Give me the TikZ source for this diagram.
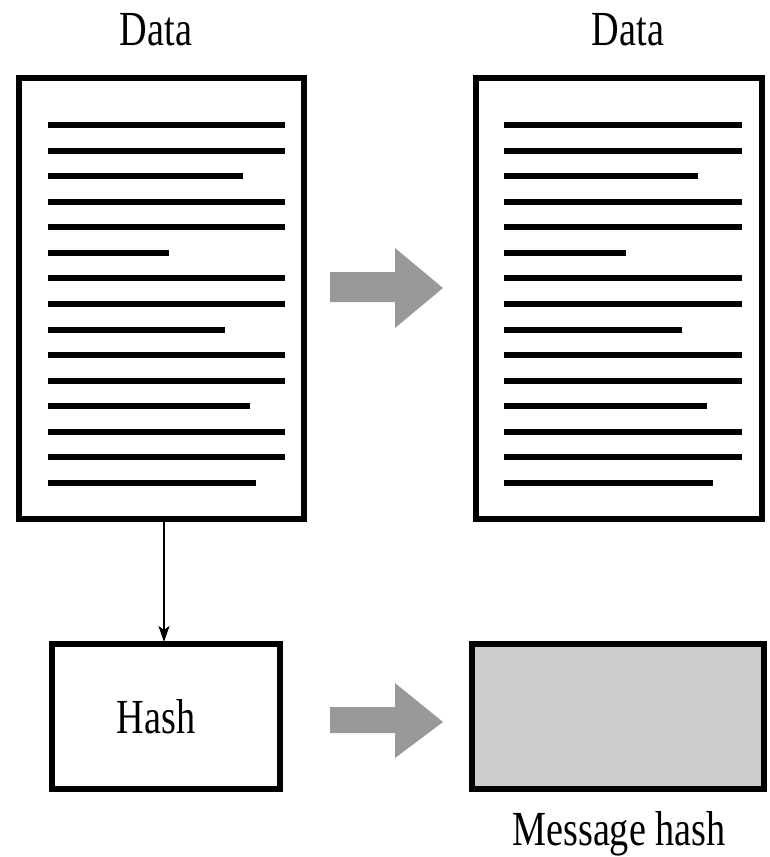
\documentclass[tikz,border=0pt]{standalone}
\usepackage{fontspec}
\setmainfont{Liberation Serif}[FakeStretch=0.78]
\usetikzlibrary{arrows.meta,calc}
\definecolor{arrowgray}{RGB}{153,153,153}
\definecolor{hashfill}{RGB}{204,204,204}
\tikzset{
  docbox/.style={draw=black, line width=6pt, fill=white, inner sep=0pt, outer sep=0pt},
  textline/.style={line width=6pt},
  bigarrow/.style={fill=arrowgray, draw=none},
  lbl/.style={font=\fontsize{49}{55}\selectfont, anchor=base, inner sep=0pt},
  thinarrow/.style={line width=1.4pt, -{Stealth[length=16pt,width=11pt,inset=4pt]}}
}
\begin{document}
\begin{tikzpicture}[x=1pt,y=-1pt]
\useasboundingbox (0,0) rectangle (769,857);
% document boxes
\node[docbox, minimum width=285pt, minimum height=441pt] (docL) at (161.5,298.5) {};
\node[docbox, minimum width=286pt, minimum height=441pt] (docR) at (619,298.5) {};
% lines
\foreach \i/\e in {0/285,1/285,2/243,3/285,4/285,5/169,6/285,7/285,8/225,9/285,10/285,11/250,12/285,13/285,14/256}{
  \draw[textline] (48,{125+25.57*\i}) -- (\e,{125+25.57*\i});
}
\foreach \i/\e in {0/742,1/742,2/698,3/742,4/742,5/626,6/742,7/742,8/682,9/742,10/742,11/707,12/742,13/742,14/713}{
  \draw[textline] (504,{125+25.57*\i}) -- (\e,{125+25.57*\i});
}
% labels
\node[lbl] (dataL) at (156,45) {Data};
\node[lbl] (dataR) at (628,45) {Data};
% hash boxes
\node[docbox, minimum width=228pt, minimum height=145pt] (hashbox) at (166,716.5) {};
\node[docbox, fill=hashfill, minimum width=292pt, minimum height=145pt] (msgbox) at (618,716.5) {};
\node[lbl] (hash) at (156,733) {Hash};
\node[lbl] (msg) at (619,845) {Message hash};
% thin arrow
\draw[thinarrow] ($(docL.south)+(2.5,3)$) -- ($(hashbox.north)+(-2,-2)$);
% gray block arrows
\fill[bigarrow] (330,272) -- (395,272) -- (395,248) -- (443,288) -- (395,328) -- (395,302) -- (330,302) -- cycle;
\fill[bigarrow] (330,707) -- (395,707) -- (395,683) -- (443,722) -- (395,758) -- (395,733) -- (330,733) -- cycle;
\end{tikzpicture}
\end{document}
